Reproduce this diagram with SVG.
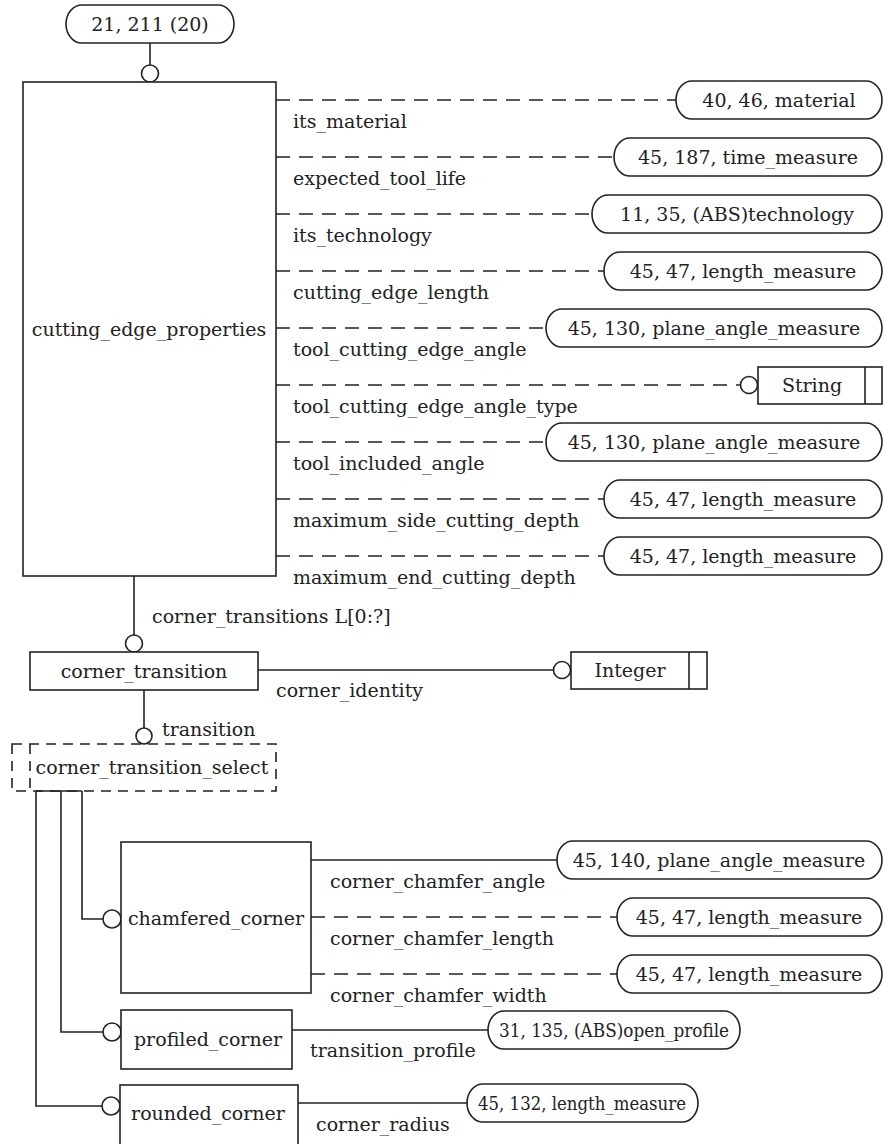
<svg xmlns="http://www.w3.org/2000/svg" width="885" height="1144" viewBox="0 0 885 1144" font-family="DejaVu Serif, serif">
<style>
text{font-family:"DejaVu Serif",serif;font-size:19px;fill:#222}
.c{text-anchor:middle}
.s{font-size:18px}
.b{fill:#fff;stroke:#222;stroke-width:1.6}
.l{fill:none;stroke:#222;stroke-width:1.6}
.d{fill:none;stroke:#222;stroke-width:1.6;stroke-dasharray:14 9}
.sd{fill:none;stroke:#222;stroke-width:1.6;stroke-dasharray:10 7}
.o{fill:#fff;stroke:#222;stroke-width:1.6}
</style>
<rect width="885" height="1144" fill="#fff"/>
<g id="connectors">
<line class="l" x1="150" y1="43" x2="150" y2="65"/>
<circle class="o" cx="150" cy="73.5" r="8.5"/>
<line class="d" x1="276" y1="100" x2="676" y2="100"/>
<line class="d" x1="276" y1="157" x2="614" y2="157"/>
<line class="d" x1="276" y1="214" x2="592" y2="214"/>
<line class="d" x1="276" y1="271" x2="604" y2="271"/>
<line class="d" x1="276" y1="328" x2="546" y2="328"/>
<line class="d" x1="276" y1="385" x2="740" y2="385"/>
<circle class="o" cx="749" cy="385" r="8.5"/>
<line class="d" x1="276" y1="442" x2="546" y2="442"/>
<line class="d" x1="276" y1="499" x2="604" y2="499"/>
<line class="d" x1="276" y1="556" x2="604" y2="556"/>
<line class="l" x1="134" y1="576" x2="134" y2="635"/>
<circle class="o" cx="134" cy="643.5" r="8.5"/>
<line class="l" x1="258" y1="670" x2="553" y2="670"/>
<circle class="o" cx="562" cy="670" r="8.5"/>
<line class="l" x1="144" y1="690" x2="144" y2="728"/>
<circle class="o" cx="144" cy="736" r="8"/>
<polyline class="l" points="82,791 82,919 103,919"/>
<circle class="o" cx="112" cy="919" r="9"/>
<polyline class="l" points="61,791 61,1032 103,1032"/>
<circle class="o" cx="112" cy="1032" r="9"/>
<polyline class="l" points="36,791 36,1106 102,1106"/>
<circle class="o" cx="111" cy="1106" r="9"/>
<line class="l" x1="36" y1="791" x2="82" y2="791"/>
<line class="l" x1="311" y1="860" x2="557" y2="860"/>
<line class="d" x1="311" y1="917" x2="617" y2="917"/>
<line class="d" x1="311" y1="974" x2="617" y2="974"/>
<line class="l" x1="292" y1="1030" x2="488" y2="1030"/>
<line class="l" x1="298" y1="1103" x2="467" y2="1103"/>
</g>
<g id="labels">
<text x="293" y="128">its_material</text>
<text x="293" y="185">expected_tool_life</text>
<text x="293" y="242">its_technology</text>
<text x="293" y="299">cutting_edge_length</text>
<text x="293" y="356">tool_cutting_edge_angle</text>
<text x="293" y="413">tool_cutting_edge_angle_type</text>
<text x="293" y="470">tool_included_angle</text>
<text x="293" y="527">maximum_side_cutting_depth</text>
<text x="293" y="584">maximum_end_cutting_depth</text>
<text x="152" y="623">corner_transitions L[0:?]</text>
<text x="276" y="697">corner_identity</text>
<text x="162" y="736">transition</text>
<text x="330" y="888">corner_chamfer_angle</text>
<text x="330" y="945">corner_chamfer_length</text>
<text x="330" y="1002">corner_chamfer_width</text>
<text x="310" y="1057">transition_profile</text>
<text x="316" y="1131">corner_radius</text>
</g>
<g id="n_top"><rect class="b" x="66" y="5" width="168" height="38" rx="16" ry="19"/><text class="c" x="150" y="31">21, 211 (20)</text></g>
<g id="n_cutting_edge_properties"><rect class="b" x="23" y="82" width="253" height="494"/><text class="c" x="149" y="336">cutting_edge_properties</text></g>
<g id="n_material"><rect class="b" x="676" y="81" width="206" height="38" rx="16" ry="19"/><text class="c" x="779" y="107">40, 46, material</text></g>
<g id="n_time_measure"><rect class="b" x="614" y="138" width="268" height="38" rx="16" ry="19"/><text class="c" x="748" y="164">45, 187, time_measure</text></g>
<g id="n_technology"><rect class="b" x="592" y="195" width="290" height="38" rx="16" ry="19"/><text class="c" x="737" y="221">11, 35, (ABS)technology</text></g>
<g id="n_length1"><rect class="b" x="604" y="252" width="278" height="38" rx="16" ry="19"/><text class="c" x="743" y="278">45, 47, length_measure</text></g>
<g id="n_plane1"><rect class="b" x="546" y="309" width="336" height="38" rx="16" ry="19"/><text class="c" x="714" y="335">45, 130, plane_angle_measure</text></g>
<g id="n_string"><rect class="b" x="758" y="367" width="124" height="37"/><line class="l" x1="865" y1="367" x2="865" y2="404"/><text class="c" x="812" y="392">String</text></g>
<g id="n_plane2"><rect class="b" x="546" y="423" width="336" height="38" rx="16" ry="19"/><text class="c" x="714" y="449">45, 130, plane_angle_measure</text></g>
<g id="n_length2"><rect class="b" x="604" y="480" width="278" height="38" rx="16" ry="19"/><text class="c" x="743" y="506">45, 47, length_measure</text></g>
<g id="n_length3"><rect class="b" x="604" y="537" width="278" height="38" rx="16" ry="19"/><text class="c" x="743" y="563">45, 47, length_measure</text></g>
<g id="n_corner_transition"><rect class="b" x="30" y="652" width="228" height="38"/><text class="c" x="144" y="678">corner_transition</text></g>
<g id="n_integer"><rect class="b" x="571" y="652" width="136" height="37"/><line class="l" x1="689" y1="652" x2="689" y2="689"/><text class="c" x="630" y="677">Integer</text></g>
<g id="n_select"><rect class="sd" x="12" y="744" width="264" height="47"/><line class="sd" x1="30" y1="744" x2="30" y2="791"/><text class="c" x="152" y="774">corner_transition_select</text></g>
<g id="n_chamfered"><rect class="b" x="121" y="842" width="190" height="151"/><text class="c" x="216" y="925">chamfered_corner</text></g>
<g id="n_plane3"><rect class="b" x="557" y="841" width="325" height="38" rx="16" ry="19"/><text class="c" x="719" y="867">45, 140, plane_angle_measure</text></g>
<g id="n_length4"><rect class="b" x="617" y="898" width="265" height="38" rx="16" ry="19"/><text class="c" x="749" y="924">45, 47, length_measure</text></g>
<g id="n_length5"><rect class="b" x="617" y="955" width="265" height="38" rx="16" ry="19"/><text class="c" x="749" y="981">45, 47, length_measure</text></g>
<g id="n_profiled"><rect class="b" x="121" y="1010" width="171" height="59"/><text class="c" x="208" y="1046">profiled_corner</text></g>
<g id="n_open_profile"><rect class="b" x="488" y="1011" width="252" height="38" rx="16" ry="19"/><text class="c s" x="614" y="1037" textLength="230" lengthAdjust="spacingAndGlyphs">31, 135, (ABS)open_profile</text></g>
<g id="n_rounded"><rect class="b" x="120" y="1085" width="178" height="70"/><text class="c" x="208" y="1120">rounded_corner</text></g>
<g id="n_length6"><rect class="b" x="467" y="1084" width="231" height="38" rx="16" ry="19"/><text class="c s" x="582" y="1110" textLength="208" lengthAdjust="spacingAndGlyphs">45, 132, length_measure</text></g>
</svg>
